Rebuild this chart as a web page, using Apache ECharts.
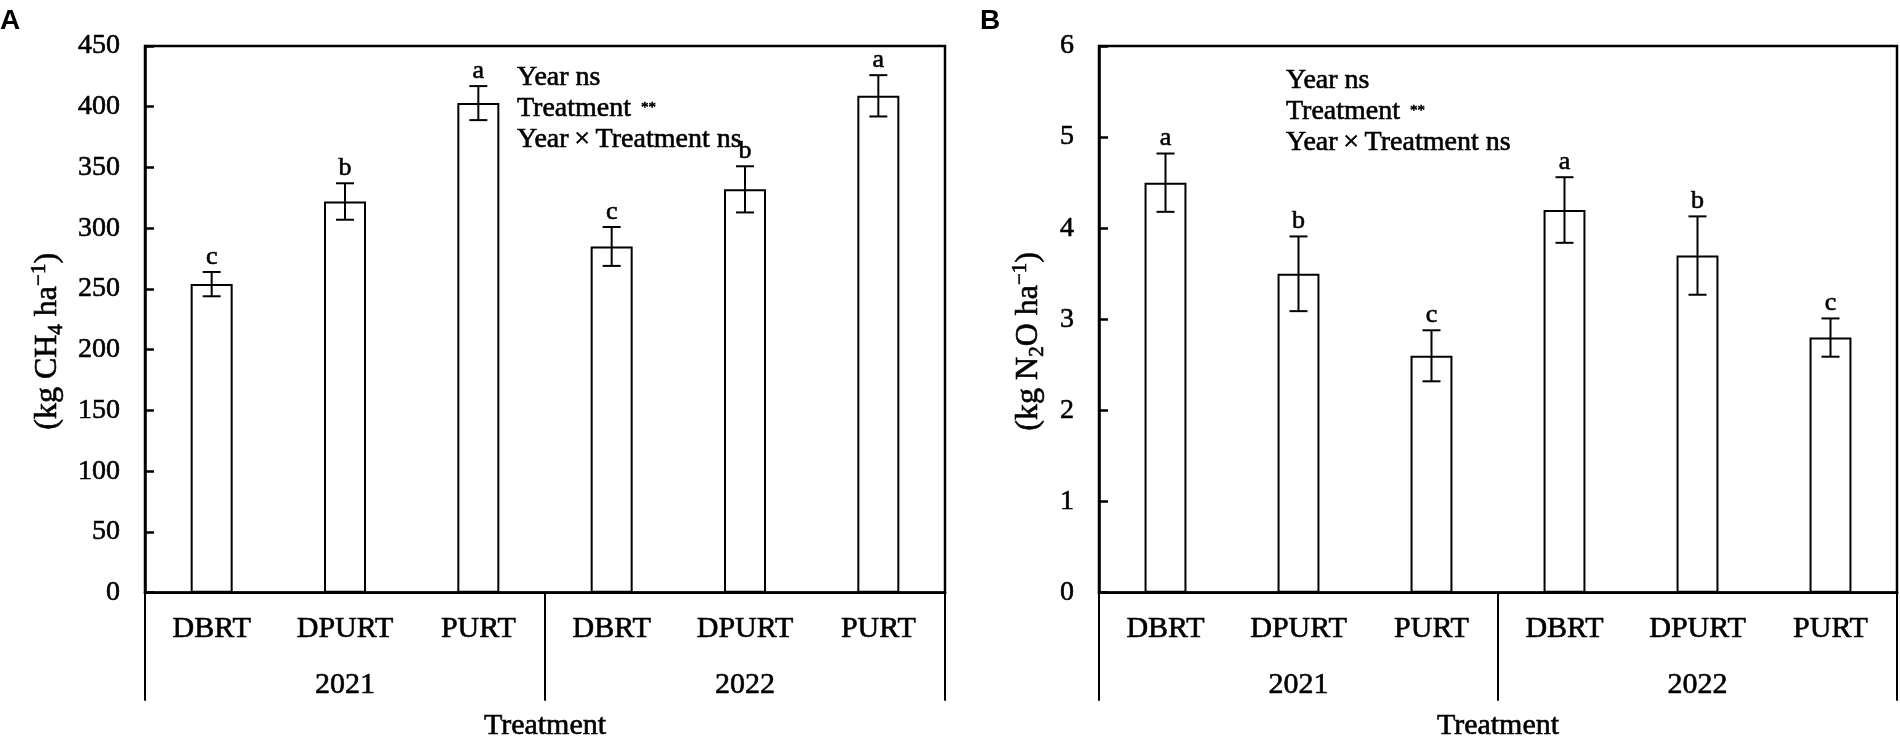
<!DOCTYPE html>
<html lang="en">
<head>
    <meta charset="UTF-8">
    <title>CH4 and N2O emissions</title>
    <style>
        html, body { margin: 0; padding: 0; background: #fff; }
        #chart { width: 1900px; height: 746px; }
    </style>
</head>
<body>
    <div id="chart"></div>
    <script src="https://cdn.jsdelivr.net/npm/echarts@6/dist/echarts.min.js"></script>
    <script>
        // data
        var categories = ['DBRT', 'DPURT', 'PURT', 'DBRT', 'DPURT', 'PURT'];
        var years = ['2021', '2022'];

        // A: CH4 (kg ha-1)
        var ch4Mean = [254, 322, 403, 285, 332, 409];
        var ch4Err = [10, 15, 14, 16, 19, 17];
        var ch4Letters = ['c', 'b', 'a', 'c', 'b', 'a'];

        // B: N2O (kg ha-1)
        var n2oMean = [4.5, 3.5, 2.6, 4.2, 3.7, 2.8];
        var n2oErr = [0.32, 0.41, 0.28, 0.36, 0.43, 0.21];
        var n2oLetters = ['a', 'b', 'c', 'a', 'b', 'c'];

        var serif = '"Liberation Serif", "Times New Roman", serif';
        var black = '#000';
        var thick = 0.6; // the scanned figure has heavy glyphs

        function errData(mean, err) {
            return mean.map(function (m, i) { return [i, m, err[i]]; });
        }

        // error bar + significance letter, placed through the axis scale
        function errorBar(letters) {
            return function (params, api) {
                var x = api.value(0), m = api.value(1), e = api.value(2);
                var hi = api.coord([x, m + e]);
                var lo = api.coord([x, m - e]);
                var w = 9;
                var st = { stroke: black, lineWidth: 2 };
                return {
                    type: 'group',
                    children: [
                        { type: 'line', shape: { x1: hi[0], y1: hi[1], x2: lo[0], y2: lo[1] }, style: st },
                        { type: 'line', shape: { x1: hi[0] - w, y1: hi[1], x2: hi[0] + w, y2: hi[1] }, style: st },
                        { type: 'line', shape: { x1: lo[0] - w, y1: lo[1], x2: lo[0] + w, y2: lo[1] }, style: st },
                        {
                            type: 'text',
                            x: hi[0], y: hi[1] - 15,
                            style: {
                                text: letters[params.dataIndex],
                                fontFamily: serif, fontSize: 26, fill: black,
                                stroke: black, lineWidth: thick,
                                align: 'center', verticalAlign: 'middle'
                            }
                        }
                    ]
                };
            };
        }

        function yAxisFor(idx, max, interval, title, gap) {
            var base = { fontFamily: serif, color: black, textBorderColor: black, textBorderWidth: thick };
            return {
                gridIndex: idx, type: 'value', min: 0, max: max, interval: interval,
                axisLine: { show: true, lineStyle: { color: black, width: 2.5 } },
                axisTick: { show: true, inside: true, length: 9, lineStyle: { color: black, width: 2.5 } },
                splitLine: { show: false },
                axisLabel: {
                    color: black, fontFamily: serif, fontSize: 28, margin: 25,
                    textBorderColor: black, textBorderWidth: thick
                },
                // trailing pad token pushes the title centre below the axis middle, as in the figure
                name: title + '{pad| }', nameLocation: 'middle', nameRotate: 90, nameGap: gap,
                nameTextStyle: {
                    color: black, fontFamily: serif, fontSize: 32,
                    textBorderColor: black, textBorderWidth: thick,
                    rich: {
                        n: Object.assign({ fontSize: 32, lineHeight: 38 }, base),
                        sub: Object.assign({ fontSize: 21, lineHeight: 20, verticalAlign: 'bottom' }, base),
                        sup: Object.assign({ fontSize: 21, lineHeight: 20, verticalAlign: 'top' }, base),
                        pad: { fontSize: 10, width: 44 }
                    }
                }
            };
        }

        function catAxis(idx) {
            return {
                gridIndex: idx, type: 'category', data: categories, position: 'bottom',
                axisLine: { show: true, lineStyle: { color: black, width: 2.5 } },
                axisTick: { show: false },
                axisLabel: {
                    color: black, fontFamily: serif, fontSize: 30, margin: 21, interval: 0,
                    textBorderColor: black, textBorderWidth: thick
                }
            };
        }

        function yearAxis(idx) {
            return {
                gridIndex: idx, type: 'category', data: years, position: 'bottom',
                axisLine: { show: false },
                axisTick: { show: true, interval: 0, length: 108, lineStyle: { color: black, width: 2 } },
                axisLabel: {
                    color: black, fontFamily: serif, fontSize: 30, margin: 77,
                    textBorderColor: black, textBorderWidth: thick
                },
                name: 'Treatment', nameLocation: 'middle', nameGap: 118,
                nameTextStyle: {
                    color: black, fontFamily: serif, fontSize: 30,
                    textBorderColor: black, textBorderWidth: thick
                }
            };
        }

        function txt(x, y, t, size) {
            return {
                type: 'text', x: x, y: y,
                style: {
                    text: t, fontFamily: serif, fontSize: size, fill: black,
                    stroke: black, lineWidth: thick,
                    align: 'left', verticalAlign: 'middle'
                }
            };
        }

        // "Year ns / Treatment ** / Year×Treatment ns" block
        function note(x, y) {
            return [
                txt(x, y, 'Year ns', 28),
                txt(x, y + 31, 'Treatment', 28),
                txt(x + 124, y + 30, '**', 15),
                txt(x, y + 62, 'Year\u2009×\u2009Treatment ns', 28)
            ];
        }

        function panelLabel(x, t) {
            return {
                type: 'text', x: x, y: 21,
                style: {
                    text: t, fontFamily: '"Liberation Sans", Arial, sans-serif', fontWeight: 'bold',
                    fontSize: 28, fill: black, verticalAlign: 'middle'
                }
            };
        }

        var chart = echarts.init(document.getElementById('chart'));

        var option = {
            animation: false,
            backgroundColor: '#fff',
            grid: [
                { left: 145, top: 46, width: 800, height: 554, show: true, borderColor: black, borderWidth: 2.5, backgroundColor: 'transparent' },
                { left: 1099, top: 46, width: 798, height: 554, show: true, borderColor: black, borderWidth: 2.5, backgroundColor: 'transparent' }
            ],
            xAxis: [catAxis(0), yearAxis(0), catAxis(1), yearAxis(1)],
            yAxis: [
                yAxisFor(0, 450, 50, '{n|(kg CH}{sub|4}{n| ha}{sup|−1}{n|)}', 78),
                yAxisFor(1, 6, 1, '{n|(kg N}{sub|2}{n|O ha}{sup|−1}{n|)}', 51)
            ],
            graphic: [panelLabel(0, 'A'), panelLabel(980, 'B')]
                .concat(note(517, 78), note(1286, 81)),
            series: [
                {
                    type: 'bar', xAxisIndex: 0, yAxisIndex: 0, data: ch4Mean, barWidth: '31.5%',
                    itemStyle: { color: '#fff', borderColor: black, borderWidth: 2 }
                },
                {
                    type: 'custom', xAxisIndex: 0, yAxisIndex: 0, data: errData(ch4Mean, ch4Err),
                    renderItem: errorBar(ch4Letters), z: 5
                },
                {
                    type: 'bar', xAxisIndex: 2, yAxisIndex: 1, data: n2oMean, barWidth: '31.5%',
                    itemStyle: { color: '#fff', borderColor: black, borderWidth: 2 }
                },
                {
                    type: 'custom', xAxisIndex: 2, yAxisIndex: 1, data: errData(n2oMean, n2oErr),
                    renderItem: errorBar(n2oLetters), z: 5
                }
            ]
        };
        chart.setOption(option);
    </script>
</body>
</html>
